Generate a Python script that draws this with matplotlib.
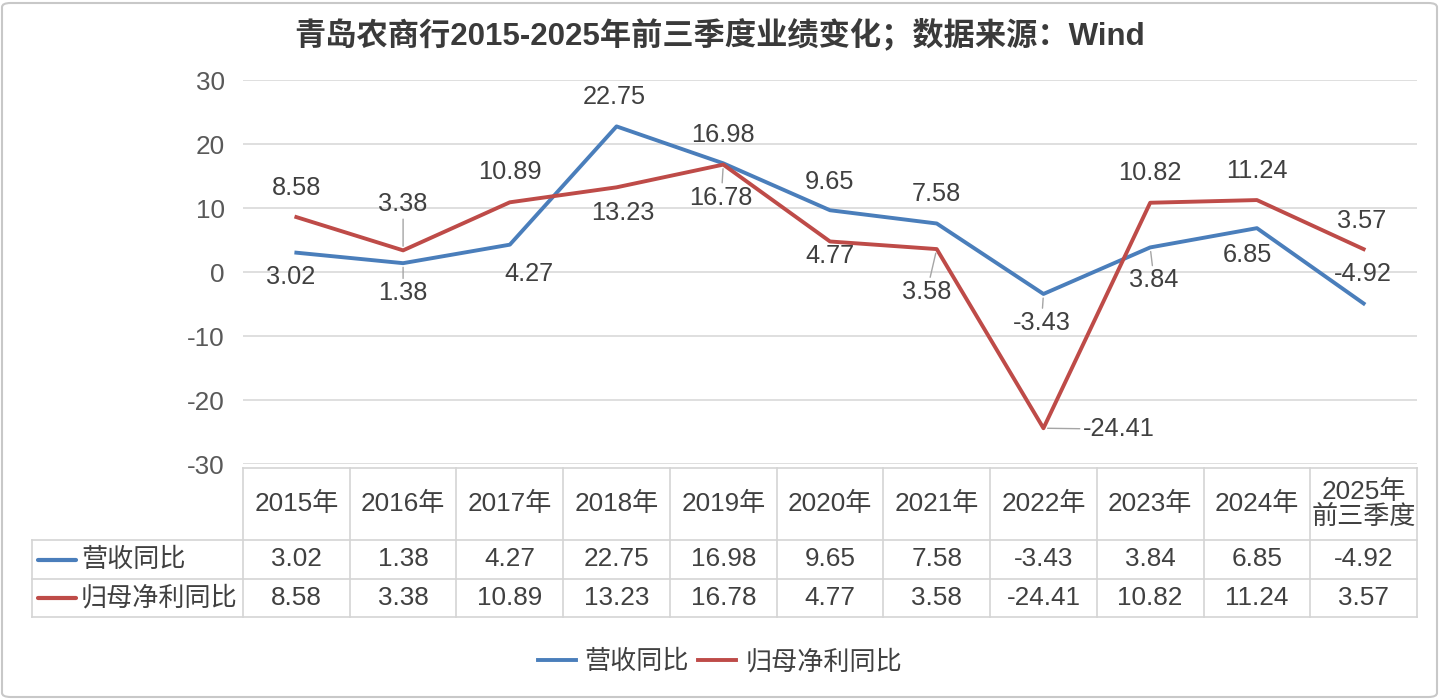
import matplotlib
matplotlib.use("Agg")
import matplotlib.pyplot as plt
from matplotlib.lines import Line2D
from matplotlib.patches import FancyBboxPatch

plt.rcParams['font.family'] = ['Liberation Sans', 'Noto Sans CJK SC']
plt.rcParams['axes.unicode_minus'] = False

# 数据
years = ['2015年', '2016年', '2017年', '2018年', '2019年', '2020年',
         '2021年', '2022年', '2023年', '2024年', '2025年\n前三季度']
revenue = [3.02, 1.38, 4.27, 22.75, 16.98, 9.65, 7.58, -3.43, 3.84, 6.85, -4.92]
profit = [8.58, 3.38, 10.89, 13.23, 16.78, 4.77, 3.58, -24.41, 10.82, 11.24, 3.57]
rev_name = '营收同比'
pro_name = '归母净利同比'
title = '青岛农商行2015-2025年前三季度业绩变化；数据来源：Wind'

BLUE = '#4A7EBB'
RED = '#BE4B48'
TXT = '#404040'
GRID = '#D9D9D9'
W, H = 1440, 700
FS_LAB = 18.3
FS_TAB = 18.8


def fx(x):
    return x / W


def fy(y):
    return 1 - y / H


# 标签位置（像素偏移，向下为正）和引导线
rev_off = [(-6, 24), (0, 30), (19, 29), (-2, -29), (0, -28), (0, -28),
           (0, -29), (-2, 29), (4, 33), (-9, 27), (-1, -29)]
rev_lead = [0, 1, 0, 0, 0, 0, 0, 1, 1, 0, 0]
pro_off = [(0, -29), (0, -46), (0, -30), (6, 26), (-2, 33), (0, 15),
           (-10, 43), (75, 1), (0, -30), (0, -29), (-2, -28)]
pro_lead = [0, 1, 0, 0, 1, 0, 1, 1, 0, 0, 0]

fig = plt.figure(figsize=(14.4, 7), dpi=100)

x0, x1 = 243, 1417
ytop, ybot = 80, 464
ax = fig.add_axes([fx(x0), fy(ybot), fx(x1) - fx(x0), fy(ytop) - fy(ybot)])
n = len(years)
xs = list(range(n))
ax.set_xlim(-0.5, n - 0.5)
ax.set_ylim(-30, 30)
ax.set_yticks(range(-30, 31, 10))
ax.tick_params(axis='y', length=0, labelsize=FS_TAB, labelcolor='#595959', pad=13)
ax.set_xticks([])
for s in ax.spines.values():
    s.set_visible(False)
ax.grid(axis='y', color=GRID, lw=1.2)
ax.set_axisbelow(True)

l1, = ax.plot(xs, revenue, color=BLUE, lw=2.8, label=rev_name, solid_joinstyle='round')
l2, = ax.plot(xs, profit, color=RED, lw=2.8, label=pro_name, solid_joinstyle='round')


def labels(vals, offs, leads):
    for i, v in enumerate(vals):
        dx, dy = offs[i]
        kw = {}
        if leads[i]:
            kw['arrowprops'] = dict(arrowstyle='-', color='#A5A5A5', lw=1,
                                    shrinkA=0, shrinkB=3)
        ax.annotate(f'{v:.2f}', xy=(i, v), xytext=(dx, -dy),
                    textcoords='offset pixels', ha='center', va='center',
                    fontsize=FS_LAB, color=TXT, annotation_clip=False, **kw)


labels(revenue, rev_off, rev_lead)
labels(profit, pro_off, pro_lead)

# 数据表
tl = '#D4D4D4'
r0, r1, r2, r3 = 468, 540, 579, 617
left = 32
cw = (x1 - x0) / n


def hline(y, xa, xb):
    fig.add_artist(Line2D([fx(xa), fx(xb)], [fy(y), fy(y)], color=tl, lw=1.2,
                          transform=fig.transFigure))


def vline(x, ya, yb):
    fig.add_artist(Line2D([fx(x), fx(x)], [fy(ya), fy(yb)], color=tl, lw=1.2,
                          transform=fig.transFigure))


hline(r0, x0, x1)
for y in (r1, r2, r3):
    hline(y, left, x1)
vline(left, r1, r3)
for k in range(n + 1):
    vline(x0 + k * cw, r0, r3)

for k, lab in enumerate(years):
    cx = x0 + (k + 0.5) * cw
    fig.text(fx(cx), fy((r0 + r1) / 2), lab, ha='center', va='center',
             fontsize=FS_TAB, color=TXT, linespacing=1.05)
    fig.text(fx(cx), fy((r1 + r2) / 2), f'{revenue[k]:.2f}', ha='center',
             va='center', fontsize=FS_TAB, color=TXT)
    fig.text(fx(cx), fy((r2 + r3) / 2), f'{profit[k]:.2f}', ha='center',
             va='center', fontsize=FS_TAB, color=TXT)

for (ya, yb), col, name in (((r1, r2), BLUE, rev_name), ((r2, r3), RED, pro_name)):
    yc = (ya + yb) / 2
    fig.add_artist(Line2D([fx(38), fx(76)], [fy(yc), fy(yc)], color=col, lw=3,
                          solid_capstyle='round', transform=fig.transFigure))
    fig.text(fx(81), fy(yc), name, ha='left', va='center', fontsize=FS_TAB, color=TXT)

# 图例
fig.legend(handles=[l1, l2], loc='center', bbox_to_anchor=(0.5, fy(662)),
           ncol=2, frameon=False, fontsize=FS_TAB, handlelength=1.45,
           handletextpad=0.35, columnspacing=0.35, labelcolor=TXT)

fig.text(0.5, fy(35), title, ha='center', va='center', fontsize=22.5,
         fontweight='bold', color='#3A3A3A')

fig.add_artist(FancyBboxPatch((fx(2), fy(697)), fx(1435), fy(3) - fy(697),
                              boxstyle='round,pad=0,rounding_size=0.006',
                              transform=fig.transFigure, fill=False,
                              edgecolor='#C8C8C8', lw=1.5))

fig.savefig('out.png', dpi=100)
